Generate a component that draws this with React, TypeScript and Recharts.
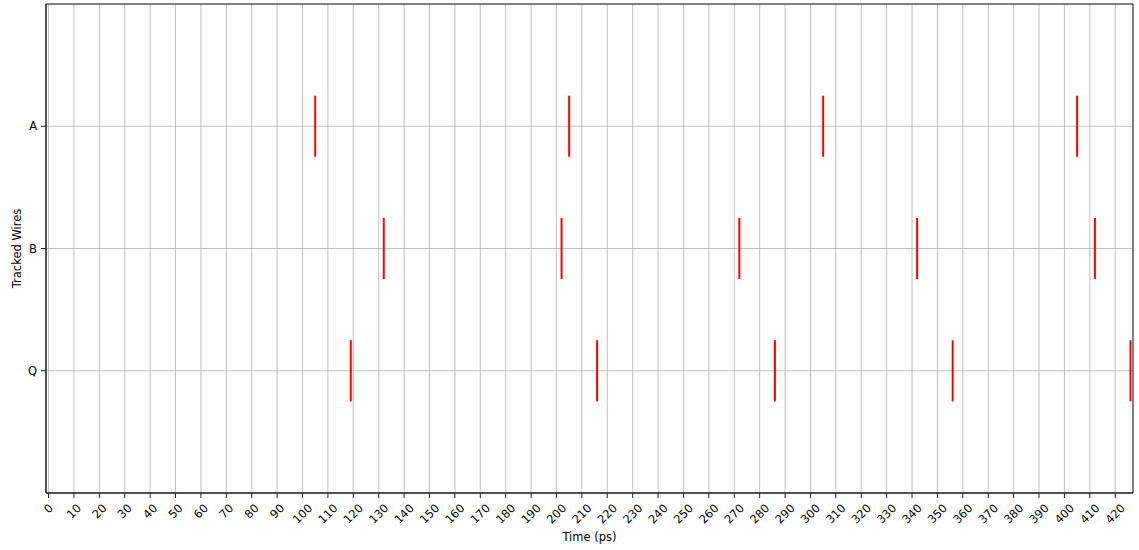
import React from "react";
import {
  ComposedChart,
  XAxis,
  YAxis,
  CartesianGrid,
  ReferenceLine,
  ReferenceArea,
  Scatter,
} from "recharts";

// Wires (category offsets on the y axis) and their event times in ps
const wireNames = ["Q", "B", "A"];
const wireOffsets = [0, 1, 2];
const eventsA = [105, 205, 305, 405];
const eventsB = [132, 202, 272, 342, 412];
const eventsQ = [119, 216, 286, 356, 426];
const lineLength = 0.5;

const xTicks = [
  0, 10, 20, 30, 40, 50, 60, 70, 80, 90, 100, 110, 120, 130, 140, 150, 160, 170,
  180, 190, 200, 210, 220, 230, 240, 250, 260, 270, 280, 290, 300, 310, 320, 330,
  340, 350, 360, 370, 380, 390, 400, 410, 420,
];
const xDomain: [number, number] = [-1, 427];
const yDomain: [number, number] = [-1, 3];

const series = [
  { name: "A", offset: 2, times: eventsA },
  { name: "B", offset: 1, times: eventsB },
  { name: "Q", offset: 0, times: eventsQ },
];

const allEvents = series.flatMap((s) =>
  s.times.map((t) => ({ t, y: s.offset }))
);

const FONT = "DejaVu Sans, sans-serif";
const FS = 11.5;

const XTick = (props: any) => {
  const { x, y, payload } = props;
  const label = String(payload.value);
  const w = label.length * 0.636 * FS;
  const h = 0.73 * FS;
  const half = ((w + h) * Math.SQRT1_2) / 2;
  const cy = y + half;
  return (
    <text
      x={x}
      y={cy}
      transform={`rotate(-45 ${x} ${cy})`}
      textAnchor="middle"
      dominantBaseline="central"
      fontSize={FS}
      fontFamily={FONT}
      fill="#000"
    >
      {label}
    </text>
  );
};

export default function App() {
  return (
    <div style={{ position: "absolute", left: 0, top: 0 }}>
      <ComposedChart
        width={1139}
        height={550}
        data={allEvents}
        margin={{ top: 4, right: 6, left: 0, bottom: 0 }}
      >
        <CartesianGrid stroke="#b0b0b0" strokeWidth={0.8} />
        <XAxis
          dataKey="t"
          type="number"
          domain={xDomain}
          allowDataOverflow
          ticks={xTicks}
          interval={0}
          height={57}
          tickSize={5}
          tickMargin={5}
          tick={<XTick />}
          stroke="#222"
          label={{
            content: (p: any) => {
              const vb = p.viewBox;
              return (
                <text
                  x={vb.x + vb.width / 2}
                  y={537}
                  textAnchor="middle"
                  dominantBaseline="central"
                  fontSize={FS}
                  fontFamily={FONT}
                  fill="#000"
                >
                  Time (ps)
                </text>
              );
            },
          }}
        />
        <YAxis
          dataKey="y"
          type="number"
          domain={yDomain}
          allowDataOverflow
          ticks={wireOffsets}
          tickFormatter={(v: number) => wireNames[v]}
          width={46}
          tickSize={5}
          tickMargin={4}
          tick={{ fontSize: FS, fontFamily: FONT, fill: "#000" }}
          stroke="#222"
          label={{
            content: (p: any) => {
              const vb = p.viewBox;
              const cx = 17;
              const cy = vb.y + vb.height / 2;
              return (
                <text
                  x={cx}
                  y={cy}
                  transform={`rotate(-90 ${cx} ${cy})`}
                  textAnchor="middle"
                  dominantBaseline="central"
                  fontSize={FS}
                  fontFamily={FONT}
                  fill="#000"
                >
                  Tracked Wires
                </text>
              );
            },
          }}
        />
        <ReferenceArea
          x1={xDomain[0]}
          x2={xDomain[1]}
          y1={yDomain[0]}
          y2={yDomain[1]}
          fill="none"
          stroke="#222"
          strokeWidth={1}
          fillOpacity={0}
        />
        {series.flatMap((s) =>
          s.times.map((t, i) => (
            <ReferenceLine
              key={`${s.name}-${i}`}
              segment={[
                { x: t, y: s.offset - lineLength / 2 },
                { x: t, y: s.offset + lineLength / 2 },
              ]}
              stroke="#ff0000"
              strokeWidth={2}
            />
          ))
        )}
        <Scatter
          dataKey="y"
          isAnimationActive={false}
          shape={() => <g />}
          legendType="none"
        />
      </ComposedChart>
    </div>
  );
}
